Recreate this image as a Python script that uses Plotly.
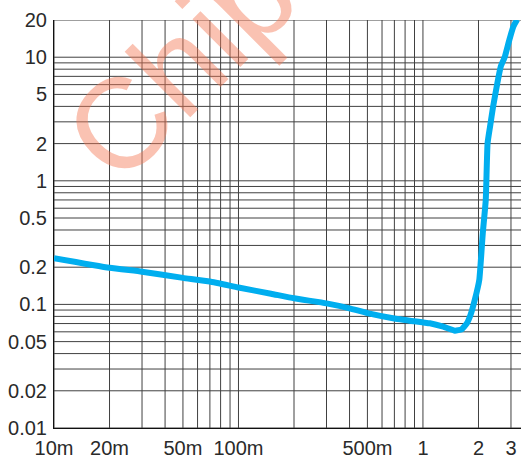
import plotly.graph_objects as go
import numpy as np

# curve data
x_vals = [0.01, 0.02, 0.03, 0.05, 0.07, 0.1, 0.15, 0.2, 0.3, 0.4, 0.5, 0.7, 1.0, 1.09,
          1.29, 1.49, 1.62, 1.73, 1.81, 1.91, 2.02, 2.11, 2.19, 2.24, 2.31, 2.40, 2.53,
          2.64, 2.78, 2.94, 3.09, 3.24]
y_vals = [0.237, 0.198, 0.184, 0.164, 0.153, 0.137, 0.122, 0.112, 0.102, 0.093, 0.085,
          0.077, 0.0715, 0.0703, 0.066, 0.0613, 0.0629, 0.0703, 0.082, 0.109, 0.158,
          0.376, 0.70, 2.01, 2.74, 3.98, 6.15, 8.38, 10.1, 13.8, 17.7, 20.2]

x_tick_vals = [0.01, 0.02, 0.05, 0.1, 0.5, 1, 2, 3]
x_tick_text = ["10m", "20m", "50m", "100m", "500m", "1", "2", "3"]
y_tick_vals = [0.01, 0.02, 0.05, 0.1, 0.2, 0.5, 1, 2, 5, 10, 20]
y_tick_text = ["0.01", "0.02", "0.05", "0.1", "0.2", "0.5", "1", "2", "5", "10", "20"]

x_grid = [m * 10.0 ** e for e in (-2, -1, 0) for m in range(1, 10) if m * 10.0 ** e <= 3.01]
y_grid = [m * 10.0 ** e for e in (-2, -1, 0, 1) for m in range(1, 10) if m * 10.0 ** e <= 20.01]

GRID = "#404040"
FONT = "Liberation Sans, Arial, sans-serif"

fig = go.Figure()
fig.add_trace(go.Scatter(
    x=x_vals, y=y_vals, mode="lines",
    line=dict(color="#00AEEF", width=6, shape="spline", smoothing=0.4),
    hoverinfo="skip", showlegend=False, cliponaxis=False,
))

shapes = []
for gx in x_grid:
    shapes.append(dict(type="line", xref="x", yref="paper", x0=gx, x1=gx, y0=0, y1=1,
                       line=dict(color=GRID, width=1), layer="below"))
for gy in y_grid:
    shapes.append(dict(type="line", xref="paper", yref="y", x0=0, x1=1, y0=gy, y1=gy,
                       line=dict(color=GRID, width=1), layer="below"))

fig.update_layout(
    width=521, height=462,
    margin=dict(l=54, r=0, t=20, b=34),
    paper_bgcolor="white", plot_bgcolor="white",
    shapes=shapes,
    font=dict(family=FONT, size=20, color="#2a2a2a"),
    xaxis=dict(type="log", range=[np.log10(0.01), np.log10(3.4)],
               tickvals=x_tick_vals, ticktext=x_tick_text,
               showgrid=False, zeroline=False,
               showline=True, linecolor="#111", linewidth=1,
               ticks="outside", ticklen=2, tickcolor="rgba(0,0,0,0)"),
    yaxis=dict(type="log", range=[np.log10(0.01), np.log10(20)],
               tickvals=y_tick_vals, ticktext=y_tick_text,
               showgrid=False, zeroline=False,
               showline=True, linecolor="#111", linewidth=1,
               ticks="outside", ticklen=2, tickcolor="rgba(0,0,0,0)"),
    annotations=[dict(text="Chip", xref="paper", yref="paper", x=0.27, y=0.89,
                      xanchor="center", yanchor="middle",
                      showarrow=False, textangle=-45,
                      font=dict(family=FONT, size=128, color="rgba(244,120,85,0.45)"))],
)

fig.write_html("out.html")
